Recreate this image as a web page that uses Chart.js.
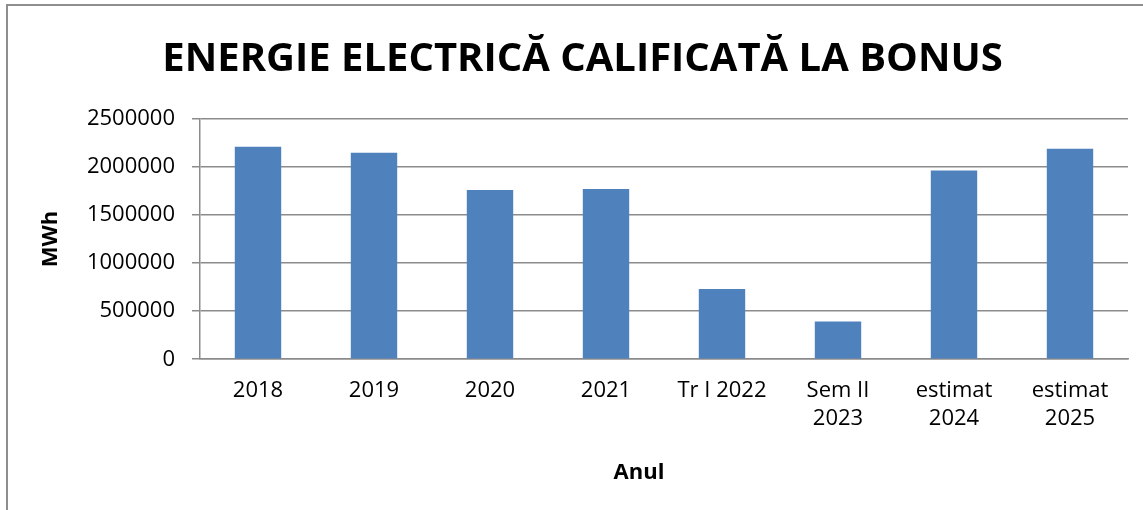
<!DOCTYPE html>
<html lang="ro">
<head>
<meta charset="UTF-8">
<title>Energie electrica calificata la bonus</title>
<script src="https://cdn.jsdelivr.net/npm/chart.js"></script>
<style>
  body { margin: 0; overflow: hidden; background: #fff; }
  #frame { position: absolute; left: 6px; top: 4px; width: 1300px; height: 700px; border: 2px solid #8e8e8e; }
  #wrap { position: absolute; left: 0; top: 0; width: 1165px; height: 510px; }
</style>
</head>
<body>
<div id="frame"></div>
<div id="wrap"><canvas id="chart"></canvas></div>
<script>
// date
const categories = ['2018', '2019', '2020', '2021', 'Tr I 2022', ['Sem II', '2023'], ['estimat', '2024'], ['estimat', '2025']];
const energie = [2211000, 2149000, 1762000, 1772000, 732000, 393000, 1963000, 2190000];
const yTicks = [0, 500000, 1000000, 1500000, 2000000, 2500000];

const FONT = '"Open Sans", sans-serif';

// titlul axei X, desenat putin la stanga fata de centrul zonei
const xTitle = {
  id: 'xTitle',
  afterDraw(chart) {
    const { ctx, chartArea } = chart;
    ctx.save();
    ctx.font = 'bold 22px ' + FONT;
    ctx.fillStyle = '#000';
    ctx.textAlign = 'center';
    ctx.textBaseline = 'middle';
    ctx.fillText('Anul', (chartArea.left + chartArea.right) / 2 - 25, 473);
    ctx.restore();
  }
};

new Chart(document.getElementById('chart'), {
  type: 'bar',
  data: {
    labels: categories,
    datasets: [{
      label: 'MWh',
      data: energie,
      backgroundColor: '#4f81bd',
      barPercentage: 0.4,
      categoryPercentage: 1
    }]
  },
  options: {
    responsive: true,
    maintainAspectRatio: false,
    animation: false,
    layout: { padding: { left: 37, right: 37, top: 0, bottom: 60 } },
    plugins: {
      legend: { display: false },
      tooltip: { enabled: false },
      title: {
        display: true,
        text: 'ENERGIE ELECTRICĂ CALIFICATĂ LA BONUS',
        color: '#000',
        font: { family: FONT, size: 40, weight: 'bold', lineHeight: 1.2 },
        padding: { top: 36, bottom: 35 }
      }
    },
    scales: {
      x: {
        grid: { display: false, drawTicks: false },
        border: { display: true, color: '#8b8b8b', width: 1.5 },
        ticks: {
          color: '#000',
          padding: 17,
          maxRotation: 0,
          autoSkip: false,
          font: { family: FONT, size: 22, lineHeight: 1.29 }
        }
      },
      y: {
        min: 0,
        max: 2500000,
        afterBuildTicks(scale) { scale.ticks = yTicks.map(v => ({ value: v })); },
        afterFit(scale) { scale.width = 163; },
        grid: { color: '#8b8b8b', lineWidth: 1.5, tickLength: 8 },
        border: { color: '#8b8b8b', width: 1.5 },
        ticks: {
          color: '#000',
          padding: 17,
          font: { family: FONT, size: 22 },
          callback: v => String(v)
        },
        title: {
          display: true,
          text: 'MWh',
          color: '#000',
          font: { family: FONT, size: 22, weight: 'bold' },
          padding: { top: 1, bottom: 0 }
        }
      }
    }
  },
  plugins: [xTitle]
});
</script>
</body>
</html>
